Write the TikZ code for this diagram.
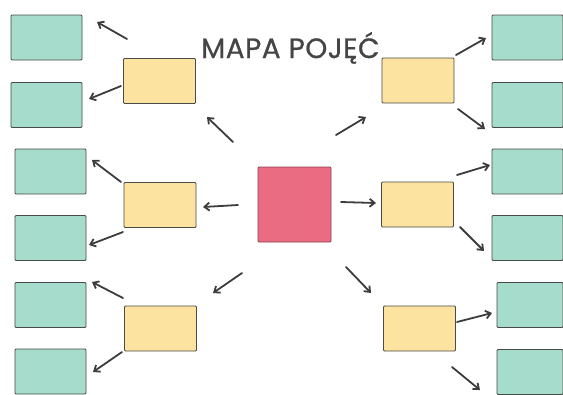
\documentclass[tikz,border=0pt]{standalone}
\usepackage{fontspec}
\setmainfont{Poppins}
\newfontfamily\titlefont[FakeBold=0.8,LetterSpace=2]{Poppins}
\usetikzlibrary{arrows.meta}
\definecolor{tealc}{HTML}{A6DCCB}
\definecolor{yelc}{HTML}{FCE3A0}
\definecolor{pinkc}{HTML}{EA6C82}
\definecolor{edgec}{HTML}{4A4A48}
\definecolor{arrc}{HTML}{3C3C3C}
\definecolor{titlec}{HTML}{454545}
\tikzset{
  box/.style={draw=edgec, line width=0.8bp, inner sep=0pt, rounded corners=1bp},
  leaf/.style={box, fill=tealc, minimum width=71bp, minimum height=45bp},
  mid/.style={box, fill=yelc, minimum width=72bp, minimum height=45bp},
  hub/.style={box, fill=pinkc, draw=pinkc!60!black, minimum width=73bp, minimum height=75bp},
  arr/.style={draw=arrc, line width=1.8bp, line cap=round, -{Straight Barb[length=5bp,width=8bp]}}
}
\begin{document}
\begin{tikzpicture}[x=1bp,y=-1bp]
\useasboundingbox (0,0) rectangle (563,394);
% hub
\node[hub] (c) at (294.5,204.5) {};
% left middle
\node[mid] (yl1) at (159.5,81) {};
\node[mid] (yl2) at (160,205) {};
\node[mid] (yl3) at (160.5,328.5) {};
% right middle
\node[mid] (yr1) at (418,80.5) {};
\node[mid] (yr2) at (417.5,204.5) {};
\node[mid] (yr3) at (419.5,328.5) {};
% left leaves
\node[leaf] (l1) at (46.5,37.5) {};
\node[leaf] (l2) at (46.5,105) {};
\node[leaf] (l3) at (50.5,171.5) {};
\node[leaf] (l4) at (50.5,238) {};
\node[leaf] (l5) at (50.5,305) {};
\node[leaf] (l6) at (50.5,371.5) {};
% right leaves
\node[leaf] (r1) at (527.5,37.5) {};
\node[leaf] (r2) at (527.5,105) {};
\node[leaf] (r3) at (527.5,171.5) {};
\node[leaf] (r4) at (527.5,238) {};
\node[leaf, minimum width=66bp] (r5) at (530,305) {};
\node[leaf, minimum width=66bp] (r6) at (530,372) {};
% title
\node[anchor=base west, inner sep=0pt, text=titlec, font=\titlefont\fontsize{28}{28}\selectfont] (title) at (201,58) {MAPA POJĘĆ};
% arrow end points
\coordinate (a1s) at (127,39);  \coordinate (a1e) at (97,22);
\coordinate (a2s) at (121,86);  \coordinate (a2e) at (89,99);
\coordinate (a3s) at (233,142); \coordinate (a3e) at (207,117);
\coordinate (a4s) at (121,182); \coordinate (a4e) at (92,160);
\coordinate (a5s) at (238,205); \coordinate (a5e) at (203,207);
\coordinate (a6s) at (123,232); \coordinate (a6e) at (89,245);
\coordinate (a7s) at (242,273); \coordinate (a7e) at (213,293);
\coordinate (a8s) at (123,298); \coordinate (a8e) at (92,282);
\coordinate (a9s) at (122,352); \coordinate (a9e) at (93,372);
\coordinate (b1s) at (456,55);  \coordinate (b1e) at (486,38);
\coordinate (b2s) at (458,109); \coordinate (b2e) at (485,129);
\coordinate (b3s) at (336,135); \coordinate (b3e) at (366,117);
\coordinate (b4s) at (457,175); \coordinate (b4e) at (490,165);
\coordinate (b5s) at (341,202); \coordinate (b5e) at (376,203);
\coordinate (b6s) at (460,227); \coordinate (b6e) at (484,251);
\coordinate (b7s) at (346,267); \coordinate (b7e) at (371,293);
\coordinate (b8s) at (457,322); \coordinate (b8e) at (492,313);
\coordinate (b9s) at (452,367); \coordinate (b9e) at (480,390);
\foreach \n in {a1,a2,a3,a4,a5,a6,a7,a8,a9,b1,b2,b3,b4,b5,b6,b7,b8,b9}
  \draw[arr] (\n s) -- (\n e);
\end{tikzpicture}
\end{document}
